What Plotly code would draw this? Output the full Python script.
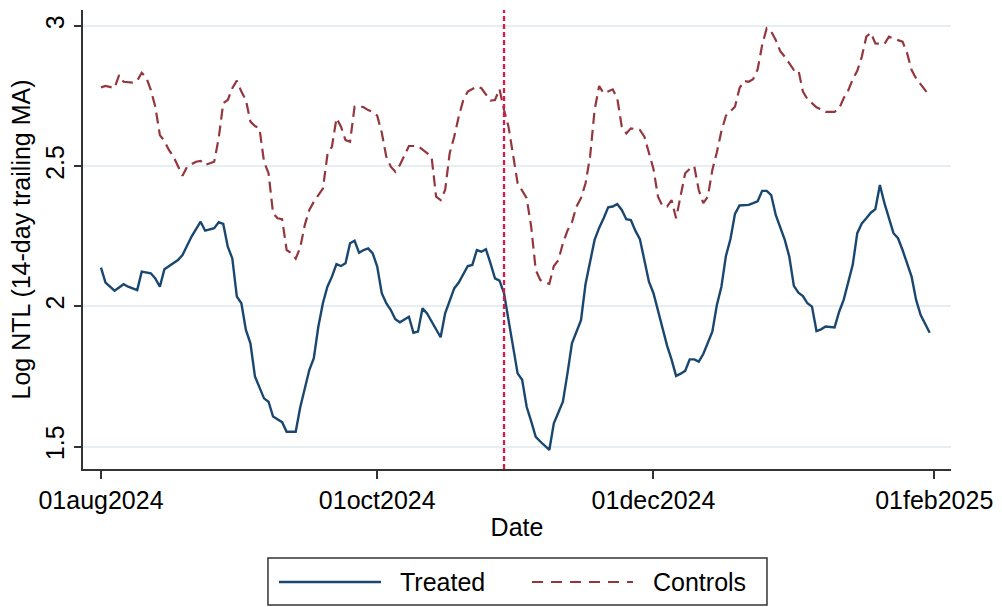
import pandas as pd
import plotly.graph_objects as go

# ---------------- data ----------------
start_date = "2024-08-01"
event_date = "2024-10-29"

treated_days = [0, 1, 3, 5, 6, 8, 9, 11, 12, 13, 14, 15, 17, 18, 20, 22, 23, 25, 26, 27,
                28, 29, 30, 31, 32, 33, 34, 36, 37, 38, 40, 41, 43, 44, 45, 46, 47, 48, 49, 50,
                51, 52, 53, 54, 55, 56, 57, 58, 59, 60, 61, 62, 63, 64, 65, 66, 68, 69, 70, 71,
                72, 73, 75, 76, 77, 78, 79, 81, 82, 83, 84, 85, 86, 87, 88, 89, 90, 91, 92, 93,
                94, 95, 96, 97, 99, 100, 102, 103, 104, 106, 107, 109, 110, 111, 112, 113, 114, 115, 116, 117,
                118, 119, 120, 121, 122, 124, 125, 126, 127, 128, 129, 130, 131, 132, 133, 135, 136, 137, 138, 139,
                140, 141, 143, 144, 145, 146, 147, 148, 149, 151, 152, 153, 154, 155, 156, 157, 158, 159, 160, 162,
                163, 164, 165, 166, 167, 168, 169, 170, 171, 172, 173, 175, 176, 177, 179, 180, 181, 183]
treated_vals = [2.138, 2.085, 2.056, 2.079, 2.070, 2.058, 2.124, 2.118, 2.100, 2.070, 2.132, 2.144, 2.165, 2.183, 2.249, 2.302, 2.270, 2.279, 2.300, 2.294,
                2.213, 2.171, 2.035, 2.011, 1.916, 1.868, 1.750, 1.672, 1.660, 1.607, 1.587, 1.553, 1.553, 1.640, 1.702, 1.773, 1.815, 1.928, 2.011, 2.070,
                2.106, 2.151, 2.144, 2.154, 2.225, 2.234, 2.191, 2.201, 2.207, 2.189, 2.142, 2.047, 2.011, 1.987, 1.954, 1.943, 1.963, 1.906, 1.910, 1.993,
                1.975, 1.945, 1.890, 1.975, 2.017, 2.064, 2.085, 2.144, 2.148, 2.201, 2.195, 2.204, 2.154, 2.100, 2.092, 2.047, 1.951, 1.856, 1.761, 1.738,
                1.642, 1.590, 1.535, 1.518, 1.488, 1.583, 1.660, 1.760, 1.868, 1.951, 2.080, 2.237, 2.280, 2.314, 2.353, 2.356, 2.365, 2.344, 2.311, 2.308,
                2.270, 2.240, 2.165, 2.088, 2.047, 1.916, 1.860, 1.810, 1.752, 1.760, 1.770, 1.811, 1.811, 1.803, 1.830, 1.910, 2.005, 2.070, 2.180, 2.240,
                2.330, 2.360, 2.362, 2.368, 2.375, 2.412, 2.412, 2.397, 2.326, 2.237, 2.177, 2.073, 2.049, 2.037, 2.011, 1.999, 1.912, 1.918, 1.928, 1.925,
                1.981, 2.023, 2.085, 2.148, 2.261, 2.296, 2.314, 2.334, 2.347, 2.433, 2.368, 2.261, 2.243, 2.201, 2.106, 2.023, 1.969, 1.906]

control_days = [0, 1, 3, 4, 5, 7, 8, 9, 10, 11, 12, 13, 14, 15, 16, 17, 18, 19, 21, 22,
                23, 25, 26, 27, 28, 29, 30, 31, 32, 33, 34, 35, 36, 37, 38, 39, 40, 41, 42, 43,
                44, 45, 46, 47, 49, 50, 51, 52, 53, 54, 55, 56, 57, 58, 59, 60, 61, 62, 63, 64,
                65, 66, 68, 70, 72, 73, 74, 75, 76, 77, 78, 79, 80, 81, 83, 84, 86, 87, 88, 89,
                90, 91, 92, 94, 95, 96, 97, 98, 99, 100, 101, 102, 103, 104, 105, 106, 107, 108, 109, 110,
                111, 113, 114, 115, 116, 117, 119, 120, 121, 122, 123, 124, 125, 126, 127, 128, 129, 130, 131, 132,
                133, 134, 135, 136, 137, 138, 140, 141, 142, 143, 144, 145, 146, 147, 148, 149, 150, 151, 152, 153,
                154, 155, 156, 157, 158, 159, 160, 162, 163, 164, 165, 166, 167, 168, 169, 170, 171, 173, 174, 175,
                177, 178, 179, 180, 181, 182, 183]
control_vals = [2.781, 2.786, 2.779, 2.825, 2.801, 2.798, 2.805, 2.833, 2.816, 2.772, 2.712, 2.611, 2.590, 2.558, 2.534, 2.500, 2.466, 2.498, 2.516, 2.519,
                2.504, 2.516, 2.600, 2.725, 2.736, 2.778, 2.805, 2.766, 2.736, 2.659, 2.643, 2.635, 2.516, 2.475, 2.332, 2.314, 2.311, 2.201, 2.190, 2.170,
                2.210, 2.290, 2.344, 2.373, 2.420, 2.540, 2.570, 2.671, 2.641, 2.593, 2.587, 2.712, 2.715, 2.710, 2.700, 2.694, 2.680, 2.620, 2.534, 2.498,
                2.480, 2.504, 2.572, 2.572, 2.546, 2.534, 2.391, 2.379, 2.415, 2.546, 2.605, 2.677, 2.736, 2.766, 2.784, 2.778, 2.734, 2.736, 2.775, 2.700,
                2.640, 2.534, 2.440, 2.386, 2.284, 2.130, 2.094, 2.085, 2.080, 2.144, 2.165, 2.225, 2.270, 2.300, 2.356, 2.386, 2.439, 2.534, 2.700, 2.786,
                2.760, 2.774, 2.742, 2.641, 2.617, 2.635, 2.629, 2.605, 2.550, 2.490, 2.391, 2.358, 2.356, 2.379, 2.314, 2.391, 2.475, 2.490, 2.500, 2.415,
                2.368, 2.391, 2.486, 2.550, 2.625, 2.680, 2.712, 2.778, 2.804, 2.801, 2.810, 2.845, 2.932, 2.992, 2.980, 2.950, 2.910, 2.890, 2.867, 2.843,
                2.843, 2.766, 2.739, 2.724, 2.710, 2.703, 2.694, 2.694, 2.706, 2.742, 2.770, 2.810, 2.840, 2.890, 2.962, 2.976, 2.938, 2.936, 2.962, 2.955,
                2.944, 2.903, 2.843, 2.813, 2.793, 2.769, 2.750]

x_tick_dates = ["2024-08-01", "2024-10-01", "2024-12-01", "2025-02-01"]
x_tick_labels = ["01aug2024", "01oct2024", "01dec2024", "01feb2025"]
y_tick_vals = [1.5, 2, 2.5, 3]
y_tick_labels = ["1.5", "2", "2.5", "3"]

series_names = ["Treated", "Controls"]

# ---------------- styling ----------------
FONT = "Liberation Sans, Arial, Helvetica, sans-serif"
TREATED_COLOR = "#1a476f"
CONTROL_COLOR = "#94363d"
EVENT_COLOR = "#d41c4c"
AXIS_COLOR = "#333333"
GRID_COLOR = "#e6eef1"

base = pd.Timestamp(start_date)
treated_dates = base + pd.to_timedelta(treated_days, unit="D")
control_dates = base + pd.to_timedelta(control_days, unit="D")

x_range = [base - pd.Timedelta(days=3.97), base + pd.Timedelta(days=187.7)]
y_range = [1.420, 3.057]

fig = go.Figure()
fig.add_trace(go.Scatter(x=treated_dates, y=treated_vals, mode="lines", name=series_names[0],
                         line=dict(color=TREATED_COLOR, width=2.4), showlegend=False))
fig.add_trace(go.Scatter(x=control_dates, y=control_vals, mode="lines", name=series_names[1],
                         line=dict(color=CONTROL_COLOR, width=2.2, dash="11px,6px"), showlegend=False))

# event line
fig.add_shape(type="line", x0=event_date, x1=event_date, xref="x", yref="paper", y0=0, y1=1,
              line=dict(color=EVENT_COLOR, width=2.3, dash="5px,3px"), layer="above")

# custom legend (box, samples, labels)
leg_y = -0.2462
fig.add_shape(type="rect", xref="paper", yref="paper", x0=0.2131, x1=0.788, y0=-0.2963, y1=-0.1939,
              line=dict(color=AXIS_COLOR, width=1.5), fillcolor="white")
fig.add_shape(type="line", xref="paper", yref="paper", x0=0.2258, x1=0.3433, y0=leg_y, y1=leg_y,
              line=dict(color=TREATED_COLOR, width=2.4))
fig.add_shape(type="line", xref="paper", yref="paper", x0=0.5173, x1=0.6336, y0=leg_y, y1=leg_y,
              line=dict(color=CONTROL_COLOR, width=2.2, dash="11px,8px"))
fig.add_annotation(text=series_names[0], xref="paper", yref="paper", x=0.3629, y=leg_y,
                   xanchor="left", yanchor="middle", showarrow=False, font=dict(size=25, color="black", family=FONT))
fig.add_annotation(text=series_names[1], xref="paper", yref="paper", x=0.6544, y=leg_y,
                   xanchor="left", yanchor="middle", showarrow=False, font=dict(size=25, color="black", family=FONT))

fig.update_layout(
    width=1002, height=607, autosize=False,
    margin=dict(l=83, r=51, t=10, b=138, pad=0),
    paper_bgcolor="white", plot_bgcolor="white",
    font=dict(family=FONT, size=25, color="black"),
    showlegend=False,
)
fig.update_xaxes(
    type="date", range=x_range, tickvals=x_tick_dates, ticktext=x_tick_labels,
    showline=True, linecolor=AXIS_COLOR, linewidth=1.8, mirror=False,
    ticks="outside", ticklen=8, tickwidth=1.5, tickcolor=AXIS_COLOR,
    showgrid=False, zeroline=False, automargin=False,
    tickfont=dict(size=25, family=FONT, color="black"),
    title=dict(text="Date", font=dict(size=25, family=FONT, color="black"), standoff=6),
)
fig.update_yaxes(
    range=y_range, tickvals=y_tick_vals, ticktext=y_tick_labels, tickangle=-90,
    showline=True, linecolor=AXIS_COLOR, linewidth=1.8, mirror=False,
    ticks="outside", ticklen=7, tickwidth=1.5, tickcolor=AXIS_COLOR,
    showgrid=True, gridcolor=GRID_COLOR, gridwidth=1.6, zeroline=False, automargin=False,
    tickfont=dict(size=25, family=FONT, color="black"),
    title=dict(text="Log NTL (14-day trailing MA)", font=dict(size=25, family=FONT, color="black"), standoff=3),
)

fig.write_html("out.html")
